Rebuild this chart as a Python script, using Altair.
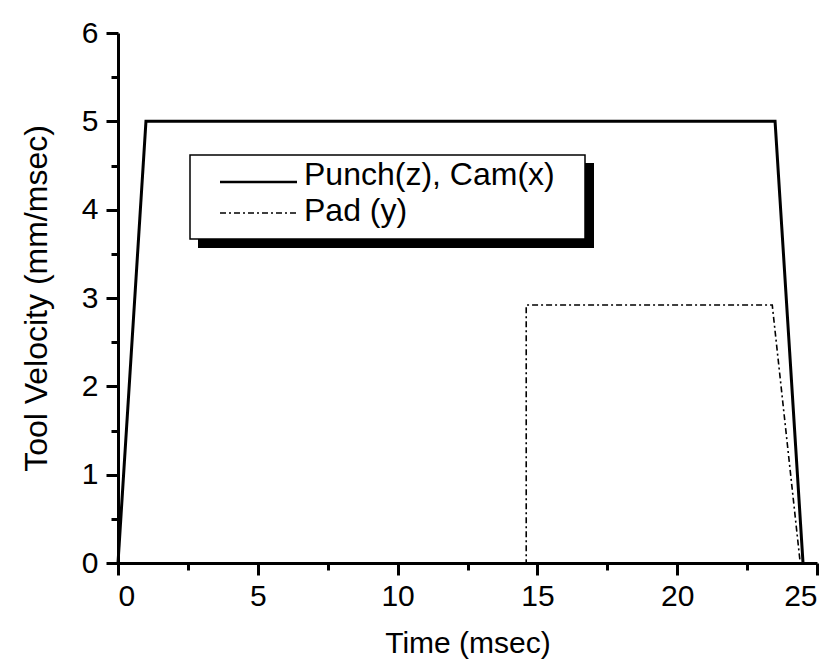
import altair as alt
import pandas as pd

# ---- data ----
punch_t = [0.0, 1.0, 23.5, 24.5]
punch_v = [0.0, 5.0, 5.0, 0.0]
pad_t = [0.0, 14.6, 14.6, 23.4, 24.4]
pad_v = [0.0, 0.0, 2.92, 2.92, 0.0]
series = ["Punch(z), Cam(x)", "Pad (y)"]
x_major = [0, 5, 10, 15, 20, 25]
x_minor = [2.5, 7.5, 12.5, 17.5, 22.5]
y_major = [0, 1, 2, 3, 4, 5, 6]
y_minor = [0.5, 1.5, 2.5, 3.5, 4.5, 5.5]

rows = []
for i, (t, v) in enumerate(zip(punch_t, punch_v)):
    rows.append({"series": series[0], "t": t, "v": v, "i": i})
for i, (t, v) in enumerate(zip(pad_t, pad_v)):
    rows.append({"series": series[1], "t": t, "v": v, "i": i})
df = pd.DataFrame(rows)

FONT = "Liberation Sans"
xscale = alt.Scale(domain=[0, 25], nice=False, zero=False)
yscale = alt.Scale(domain=[0, 6], nice=False)

lines = alt.Chart(df).mark_line(color="black").encode(
    x=alt.X("t:Q", scale=xscale,
            axis=alt.Axis(orient="bottom", values=x_major, tickSize=12, labelPadding=6,
                          format="d", title="Time (msec)", titlePadding=17, titleFontSize=30)),
    y=alt.Y("v:Q", scale=yscale,
            axis=alt.Axis(orient="left", values=y_major, tickSize=12, labelPadding=8,
                          format="d", title="Tool Velocity (mm/msec)", titlePadding=28)),
    order="i:Q",
    detail="series:N",
    strokeDash=alt.StrokeDash("series:N", scale=alt.Scale(domain=series, range=[[1, 0], [6, 3, 2, 3]]), legend=None),
    strokeWidth=alt.StrokeWidth("series:N", scale=alt.Scale(domain=series, range=[3, 1.6]), legend=None),
)

minor = alt.Chart(df).mark_line(opacity=0).encode(
    x=alt.X("t:Q", scale=xscale,
            axis=alt.Axis(orient="bottom", values=x_minor, tickSize=7, labels=False, domain=False, title=None)),
    y=alt.Y("v:Q", scale=yscale,
            axis=alt.Axis(orient="left", values=y_minor, tickSize=7, labels=False, domain=False, title=None)),
    order="i:Q",
    detail="series:N",
)

one = alt.Data(values=[{"a": 1}])
shadow = alt.Chart(one).mark_rect(color="black").encode(
    x=alt.value(80), x2=alt.value(476), y=alt.value(130), y2=alt.value(215))
box = alt.Chart(one).mark_rect(fill="white", stroke="black", strokeWidth=1.5).encode(
    x=alt.value(72), x2=alt.value(467), y=alt.value(122), y2=alt.value(206))
sample1 = alt.Chart(one).mark_rule(color="black", strokeWidth=2.5).encode(
    x=alt.value(102), x2=alt.value(179), y=alt.value(149))
sample2 = alt.Chart(one).mark_rule(color="black", strokeWidth=1.6, strokeDash=[6, 3, 2, 3]).encode(
    x=alt.value(102), x2=alt.value(179), y=alt.value(180))
text1 = alt.Chart(pd.DataFrame({"label": [series[0]]})).mark_text(
    align="left", baseline="alphabetic", fontSize=32, font=FONT, color="black").encode(
    x=alt.value(186), y=alt.value(152), text="label:N")
text2 = alt.Chart(pd.DataFrame({"label": [series[1]]})).mark_text(
    align="left", baseline="alphabetic", fontSize=32, font=FONT, color="black").encode(
    x=alt.value(186), y=alt.value(188), text="label:N")

chart = alt.layer(lines, minor, shadow, box, sample1, sample2, text1, text2).resolve_axis(
    x="independent", y="independent"
).properties(
    width=699, height=530,
    padding={"left": 110, "top": 25, "right": 13, "bottom": 102},
    autosize="none",
).configure_view(stroke=None).configure_axis(
    grid=False, domainColor="black", domainWidth=3, tickColor="black", tickWidth=3,
    labelFont=FONT, labelFontSize=30, labelColor="black",
    titleFont=FONT, titleFontSize=32, titleFontWeight="normal", titleColor="black",
)

chart.save("out.html", embed_options={"renderer": "svg", "actions": False})
